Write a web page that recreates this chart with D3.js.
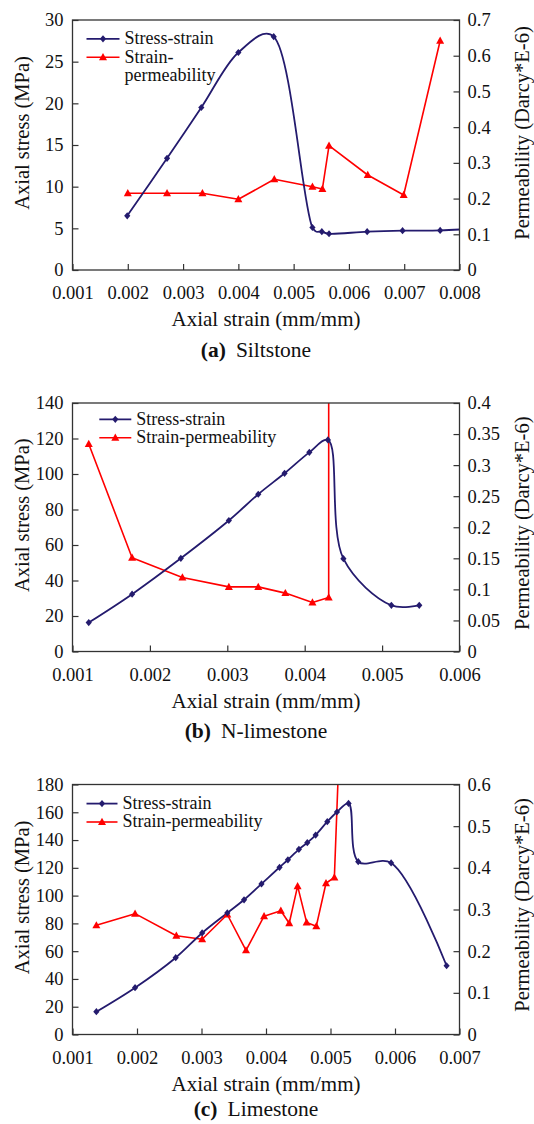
<!DOCTYPE html>
<html>
<head>
<meta charset="utf-8">
<script src="https://cdn.jsdelivr.net/npm/d3@7"></script>
<style>
body { margin: 0; background: #fff; }
svg { display: block; }
</style>
</head>
<body>
<script>
// (a) Siltstone
var aStressX = [0.00199, 0.00271, 0.00333, 0.004, 0.00464, 0.00534, 0.00551, 0.00564, 0.00633, 0.00697, 0.00765, 0.0083];
var aStress = [6.5, 13.4, 19.5, 26.1, 28.0, 5.1, 4.6, 4.35, 4.6, 4.72, 4.75, 4.98];
var aPermX = [0.002, 0.00271, 0.00335, 0.004, 0.00465, 0.00534, 0.00552, 0.00564, 0.00634, 0.00699, 0.00765];
var aPerm = [0.215, 0.215, 0.215, 0.198, 0.254, 0.233, 0.227, 0.348, 0.266, 0.21, 0.642];
var aXTicks = [0.001, 0.002, 0.003, 0.004, 0.005, 0.006, 0.007, 0.008];
var aYTicks = [0, 5, 10, 15, 20, 25, 30];
var aY2Ticks = [0, 0.1, 0.2, 0.3, 0.4, 0.5, 0.6, 0.7];

// (b) N-limestone
var bStressX = [0.00121, 0.00177, 0.0024, 0.00302, 0.0034, 0.00374, 0.00406, 0.0043, 0.0045, 0.00512, 0.00548];
var bStress = [16.3, 32.3, 52.5, 73.8, 88.6, 100.4, 112.2, 119.2, 52.3, 26, 26];
var bPermX = [0.00121, 0.00177, 0.00242, 0.00302, 0.0034, 0.00375, 0.0041, 0.00431, 0.00431];
var bPerm = [0.334, 0.151, 0.119, 0.104, 0.104, 0.094, 0.079, 0.087, 0.8];
var bXTicks = [0.001, 0.002, 0.003, 0.004, 0.005, 0.006];
var bYTicks = [0, 20, 40, 60, 80, 100, 120, 140];
var bY2Ticks = [0, 0.05, 0.1, 0.15, 0.2, 0.25, 0.3, 0.35, 0.4];

// (c) Limestone
var cStressX = [0.00137, 0.00197, 0.0026, 0.00301, 0.0034, 0.00366, 0.00393, 0.00421, 0.00434, 0.00451, 0.00464, 0.00477, 0.00495, 0.0051, 0.00528, 0.00543, 0.00594, 0.0068];
var cStress = [16.4, 33.7, 55.3, 73.1, 87.5, 97, 108.4, 120.4, 125.8, 133.3, 138.1, 143.6, 153.2, 160.2, 166.4, 124.4, 123.5, 49.5];
var cPermX = [0.00137, 0.00197, 0.00261, 0.00301, 0.0034, 0.00369, 0.00397, 0.00423, 0.00436, 0.00449, 0.00463, 0.00478, 0.00493, 0.00506, 0.00515];
var cPerm = [0.262, 0.29, 0.237, 0.2285, 0.288, 0.202, 0.284, 0.297, 0.267, 0.356, 0.269, 0.26, 0.363, 0.377, 0.75];
var cXTicks = [0.001, 0.002, 0.003, 0.004, 0.005, 0.006, 0.007];
var cYTicks = [0, 20, 40, 60, 80, 100, 120, 140, 160, 180];
var cY2Ticks = [0, 0.1, 0.2, 0.3, 0.4, 0.5, 0.6];

var seriesNames = ['Stress-strain', 'Strain-permeability'];
var xTitle = 'Axial strain (mm/mm)';
var yTitle = 'Axial stress (MPa)';
var y2Title = 'Permeability (Darcy*E-6)';

var FONT = 'Liberation Serif, Times New Roman, serif';
var BLUE = '#241b6e', RED = '#ff0000', AXIS = '#333', TEXT = '#111';
var DIAMOND = 'M0,-3.6L3.1,0L0,3.6L-3.1,0Z';
var TRIANGLE = 'M0,-4.2L4,3L-4,3Z';

var svg = d3.select('body').append('svg')
  .attr('width', 534)
  .attr('height', 1124)
  .attr('font-family', FONT);

function styleAxis(a) {
  a.attr('font-family', FONT).attr('font-size', 18.5);
  a.select('.domain').remove();
  a.selectAll('.tick line').attr('stroke', AXIS).attr('stroke-width', 1.2);
  a.selectAll('.tick text').attr('fill', TEXT);
}

function drawPanel(p) {
  var left = 72.5, right = 459.5;
  var g = svg.append('g');

  var x = d3.scaleLinear().domain([p.xTicks[0], p.xTicks[p.xTicks.length - 1]]).range([left, right]);
  var y = d3.scaleLinear().domain([p.yTicks[0], p.yTicks[p.yTicks.length - 1]]).range([p.bottom, p.top]);
  var y2 = d3.scaleLinear().domain([p.y2Ticks[0], p.y2Ticks[p.y2Ticks.length - 1]]).range([p.bottom, p.top]);

  g.append('clipPath').attr('id', 'clip' + p.id)
    .append('rect')
    .attr('x', left).attr('y', p.top)
    .attr('width', right - left).attr('height', p.bottom - p.top);

  var plot = g.append('g').attr('clip-path', 'url(#clip' + p.id + ')');

  var stress = d3.zip(p.stressX, p.stress);
  var perm = d3.zip(p.permX, p.perm);

  // smoothed like the spreadsheet line
  var stressLine = d3.line()
    .x(function (d) { return x(d[0]); })
    .y(function (d) { return y(d[1]); })
    .curve(d3.curveCatmullRom.alpha(p.alpha));

  var permLine = d3.line()
    .x(function (d) { return x(d[0]); })
    .y(function (d) { return y2(d[1]); });

  plot.append('path')
    .datum(perm)
    .attr('fill', 'none')
    .attr('stroke', RED)
    .attr('stroke-width', 1.6)
    .attr('stroke-linejoin', 'round')
    .attr('d', permLine);

  plot.append('path')
    .datum(stress)
    .attr('fill', 'none')
    .attr('stroke', BLUE)
    .attr('stroke-width', 1.8)
    .attr('d', stressLine);

  plot.append('g').selectAll('path')
    .data(perm)
    .enter().append('path')
    .attr('d', TRIANGLE)
    .attr('fill', RED)
    .attr('transform', function (d) { return 'translate(' + x(d[0]) + ',' + y2(d[1]) + ')'; });

  plot.append('g').selectAll('path')
    .data(stress)
    .enter().append('path')
    .attr('d', DIAMOND)
    .attr('fill', BLUE)
    .attr('transform', function (d) { return 'translate(' + x(d[0]) + ',' + y(d[1]) + ')'; });

  // axes, ticks inside
  g.append('g')
    .attr('transform', 'translate(0,' + p.bottom + ')')
    .call(d3.axisBottom(x).tickValues(p.xTicks).tickFormat(d3.format('.3f')).tickSize(-6).tickPadding(16))
    .call(styleAxis);

  g.append('g')
    .attr('transform', 'translate(' + left + ',0)')
    .call(d3.axisLeft(y).tickValues(p.yTicks).tickSize(-6).tickPadding(9))
    .call(styleAxis);

  g.append('g')
    .attr('transform', 'translate(' + right + ',0)')
    .call(d3.axisRight(y2).tickValues(p.y2Ticks).tickFormat(function (d) { return String(d); }).tickSize(-6).tickPadding(8))
    .call(styleAxis);

  g.append('rect')
    .attr('x', left).attr('y', p.top)
    .attr('width', right - left).attr('height', p.bottom - p.top)
    .attr('fill', 'none')
    .attr('stroke', AXIS)
    .attr('stroke-width', 1.3);

  // titles
  g.append('text')
    .attr('x', (left + right) / 2)
    .attr('y', p.bottom + 56)
    .attr('text-anchor', 'middle')
    .attr('font-size', 21)
    .attr('fill', TEXT)
    .text(xTitle);

  var mid = (p.top + p.bottom) / 2;
  g.append('text')
    .attr('transform', 'translate(29,' + (mid - 12) + ') rotate(-90)')
    .attr('text-anchor', 'middle')
    .attr('font-size', 20.5)
    .attr('fill', TEXT)
    .text(yTitle);

  g.append('text')
    .attr('transform', 'translate(529,' + (mid + p.y2Shift) + ') rotate(-90)')
    .attr('text-anchor', 'middle')
    .attr('font-size', 20.5)
    .attr('fill', TEXT)
    .text(y2Title);

  var cap = g.append('text')
    .attr('x', 256)
    .attr('y', p.captionY)
    .attr('text-anchor', 'middle')
    .attr('font-size', 21.5)
    .attr('fill', TEXT);
  cap.append('tspan').attr('font-weight', 'bold').text(p.letter);
  cap.append('tspan').attr('dx', 10).text(p.rock);

  // legend
  var lg = g.append('g').attr('font-size', 18).attr('fill', TEXT);
  var rows = [
    { y: p.legY[0], color: BLUE, mark: DIAMOND, w: 1.8, lines: p.legLines[0] },
    { y: p.legY[1], color: RED, mark: TRIANGLE, w: 1.6, lines: p.legLines[1] }
  ];
  rows.forEach(function (r) {
    lg.append('line')
      .attr('x1', p.legX).attr('x2', p.legX + p.legW)
      .attr('y1', r.y).attr('y2', r.y)
      .attr('stroke', r.color).attr('stroke-width', r.w);
    lg.append('path')
      .attr('d', r.mark)
      .attr('fill', r.color)
      .attr('transform', 'translate(' + (p.legX + p.legW / 2) + ',' + r.y + ')');
    // wrapped labels get one text per line
    r.lines.forEach(function (s, i) {
      lg.append('text')
        .attr('x', p.legX + p.legW + 5)
        .attr('y', r.y + i * 18.4)
        .attr('dy', '0.3em')
        .text(s);
    });
  });
}

drawPanel({
  id: 'a', top: 20, bottom: 270, alpha: 0.35,
  stressX: aStressX, stress: aStress, permX: aPermX, perm: aPerm,
  xTicks: aXTicks, yTicks: aYTicks, y2Ticks: aY2Ticks,
  y2Shift: -12, captionY: 357, letter: '(a)', rock: 'Siltstone',
  legX: 86.5, legW: 33, legY: [38.8, 57.3],
  legLines: [[seriesNames[0]], ['Strain-', 'permeability']]
});

drawPanel({
  id: 'b', top: 403, bottom: 651.5, alpha: 0.5,
  stressX: bStressX, stress: bStress, permX: bPermX, perm: bPerm,
  xTicks: bXTicks, yTicks: bYTicks, y2Ticks: bY2Ticks,
  y2Shift: -4, captionY: 738, letter: '(b)', rock: 'N-limestone',
  legX: 99.3, legW: 32, legY: [419.3, 437.7],
  legLines: [[seriesNames[0]], [seriesNames[1]]]
});

drawPanel({
  id: 'c', top: 784.5, bottom: 1034.5, alpha: 0.5,
  stressX: cStressX, stress: cStress, permX: cPermX, perm: cPerm,
  xTicks: cXTicks, yTicks: cYTicks, y2Ticks: cY2Ticks,
  y2Shift: -4.5, captionY: 1116, letter: '(c)', rock: 'Limestone',
  legX: 86.5, legW: 31, legY: [803.6, 822],
  legLines: [[seriesNames[0]], [seriesNames[1]]]
});
</script>
</body>
</html>
